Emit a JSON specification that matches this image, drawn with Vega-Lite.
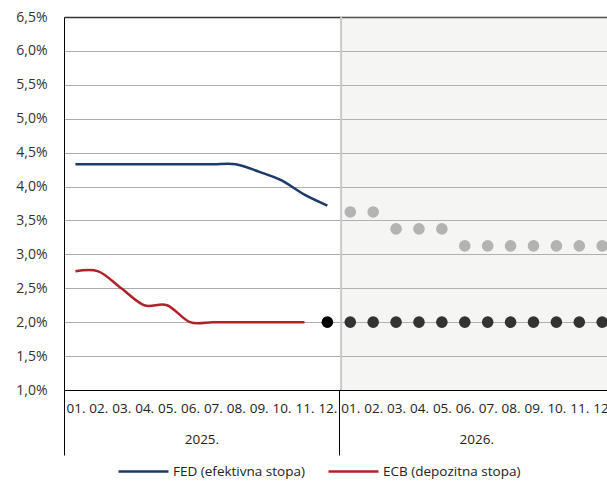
{
  "$schema": "https://vega.github.io/schema/vega-lite/v6.json",
  "width": 543,
  "height": 373,
  "autosize": {"type": "none"},
  "padding": {"left": 64, "top": 17, "right": 0, "bottom": 95},
  "config": {
    "font": "Open Sans",
    "view": {"stroke": null},
    "axis": {"labelFont": "Open Sans", "labelFontSize": 13.5, "labelColor": "#222222"},
    "legend": {"labelFont": "Open Sans"}
  },
  "datasets": {
    "rates": [
      {"m": 1, "v": 4.33, "s": "FED (efektivna stopa)"},
      {"m": 2, "v": 4.33, "s": "FED (efektivna stopa)"},
      {"m": 3, "v": 4.33, "s": "FED (efektivna stopa)"},
      {"m": 4, "v": 4.33, "s": "FED (efektivna stopa)"},
      {"m": 5, "v": 4.33, "s": "FED (efektivna stopa)"},
      {"m": 6, "v": 4.33, "s": "FED (efektivna stopa)"},
      {"m": 7, "v": 4.33, "s": "FED (efektivna stopa)"},
      {"m": 8, "v": 4.33, "s": "FED (efektivna stopa)"},
      {"m": 9, "v": 4.22, "s": "FED (efektivna stopa)"},
      {"m": 10, "v": 4.09, "s": "FED (efektivna stopa)"},
      {"m": 11, "v": 3.88, "s": "FED (efektivna stopa)"},
      {"m": 12, "v": 3.72, "s": "FED (efektivna stopa)"},
      {"m": 1, "v": 2.75, "s": "ECB (depozitna stopa)"},
      {"m": 2, "v": 2.75, "s": "ECB (depozitna stopa)"},
      {"m": 3, "v": 2.5, "s": "ECB (depozitna stopa)"},
      {"m": 4, "v": 2.25, "s": "ECB (depozitna stopa)"},
      {"m": 5, "v": 2.25, "s": "ECB (depozitna stopa)"},
      {"m": 6, "v": 2.0, "s": "ECB (depozitna stopa)"},
      {"m": 7, "v": 2.0, "s": "ECB (depozitna stopa)"},
      {"m": 8, "v": 2.0, "s": "ECB (depozitna stopa)"},
      {"m": 9, "v": 2.0, "s": "ECB (depozitna stopa)"},
      {"m": 10, "v": 2.0, "s": "ECB (depozitna stopa)"},
      {"m": 11, "v": 2.0, "s": "ECB (depozitna stopa)"}
    ],
    "dots": [
      {"m": 12, "v": 2.0, "g": "ecb_now"},
      {"m": 13, "v": 3.625, "g": "fed_exp"},
      {"m": 14, "v": 3.625, "g": "fed_exp"},
      {"m": 15, "v": 3.375, "g": "fed_exp"},
      {"m": 16, "v": 3.375, "g": "fed_exp"},
      {"m": 17, "v": 3.375, "g": "fed_exp"},
      {"m": 18, "v": 3.125, "g": "fed_exp"},
      {"m": 19, "v": 3.125, "g": "fed_exp"},
      {"m": 20, "v": 3.125, "g": "fed_exp"},
      {"m": 21, "v": 3.125, "g": "fed_exp"},
      {"m": 22, "v": 3.125, "g": "fed_exp"},
      {"m": 23, "v": 3.125, "g": "fed_exp"},
      {"m": 24, "v": 3.125, "g": "fed_exp"},
      {"m": 13, "v": 2.0, "g": "ecb_exp"},
      {"m": 14, "v": 2.0, "g": "ecb_exp"},
      {"m": 15, "v": 2.0, "g": "ecb_exp"},
      {"m": 16, "v": 2.0, "g": "ecb_exp"},
      {"m": 17, "v": 2.0, "g": "ecb_exp"},
      {"m": 18, "v": 2.0, "g": "ecb_exp"},
      {"m": 19, "v": 2.0, "g": "ecb_exp"},
      {"m": 20, "v": 2.0, "g": "ecb_exp"},
      {"m": 21, "v": 2.0, "g": "ecb_exp"},
      {"m": 22, "v": 2.0, "g": "ecb_exp"},
      {"m": 23, "v": 2.0, "g": "ecb_exp"},
      {"m": 24, "v": 2.0, "g": "ecb_exp"}
    ],
    "shade": [
      {"x": 12.6, "x2": 24.21}
    ]
  },
  "layer": [
    {
      "data": {"name": "shade"},
      "mark": {"type": "rect", "fill": "#cdcdc8", "opacity": 0.2, "clip": true},
      "encoding": {
        "x": {
          "field": "x", "type": "quantitative",
          "scale": {"domain": [0.5, 24.21], "nice": false, "zero": false},
          "axis": {"orient": "bottom", "values": [0.5, 12.5], "labels": false, "ticks": true, "tickSize": 65, "tickColor": "#000000", "tickWidth": 1, "domain": false, "grid": false, "title": null}
        },
        "x2": {"field": "x2"}
      }
    },
    {
      "data": {"name": "shade"},
      "mark": {"type": "rule", "color": "#c9c9c9", "strokeWidth": 2},
      "encoding": {
        "x": {
          "field": "x", "type": "quantitative",
          "scale": {"domain": [0.5, 24.21], "nice": false, "zero": false},
          "axis": null
        }
      }
    },
    {
      "data": {"name": "rates"},
      "mark": {"type": "line", "interpolate": "cardinal", "strokeWidth": 2.5},
      "encoding": {
        "x": {
          "field": "m", "type": "quantitative",
          "scale": {"domain": [0.5, 24.21], "nice": false, "zero": false},
          "axis": {
            "orient": "bottom",
            "values": [1,2,3,4,5,6,7,8,9,10,11,12,13,14,15,16,17,18,19,20,21,22,23,24],
            "labelExpr": "format(datum.value > 12 ? datum.value - 12 : datum.value, '02') + '.'",
            "ticks": false, "grid": false, "domain": true, "domainColor": "#000000", "domainWidth": 1,
            "labelPadding": 11, "labelFlush": false, "labelOverlap": false, "title": null
          }
        },
        "y": {
          "field": "v", "type": "quantitative",
          "scale": {"domain": [1, 6.5], "nice": false, "zero": false},
          "axis": {
            "values": [1, 1.5, 2, 2.5, 3, 3.5, 4, 4.5, 5, 5.5, 6, 6.5],
            "labelExpr": "replace(format(datum.value, '.1f'), '.', ',') + '%'",
            "ticks": false, "grid": true, "labelOverlap": false, "labelFlush": false,
            "gridColor": {"condition": {"test": "datum.value == 6.5", "value": "#333333"}, "value": "#ababab"},
            "gridWidth": {"condition": {"test": "datum.value == 6.5", "value": 1.5}, "value": 1},
            "domain": true, "domainColor": "#000000", "domainWidth": 1,
            "labelPadding": 17, "labelFontSize": 14, "labelColor": "#333333", "title": null
          }
        },
        "color": {
          "field": "s", "type": "nominal",
          "scale": {"domain": ["FED (efektivna stopa)", "ECB (depozitna stopa)"], "range": ["#1d3a6c", "#b0222b"]},
          "legend": {
            "orient": "none", "legendX": 53, "legendY": 428, "direction": "horizontal",
            "title": null, "symbolType": "stroke", "symbolSize": 2500, "symbolStrokeWidth": 2.5,
            "labelFontSize": 13.5, "labelColor": "#222222", "columnPadding": 18, "labelOffset": 3
          }
        }
      }
    },
    {
      "data": {"name": "dots"},
      "mark": {"type": "point", "shape": "circle", "filled": true, "opacity": 1, "size": 135},
      "encoding": {
        "x": {
          "field": "m", "type": "quantitative",
          "scale": {"domain": [0.5, 24.21], "nice": false, "zero": false},
          "axis": {
            "orient": "bottom", "values": [6.5, 18.5],
            "labelExpr": "datum.value < 12 ? '2025.' : '2026.'",
            "ticks": false, "grid": false, "domain": false,
            "labelPadding": 42, "labelFlush": false, "labelOverlap": false, "title": null
          }
        },
        "y": {
          "field": "v", "type": "quantitative",
          "scale": {"domain": [1, 6.5], "nice": false, "zero": false},
          "axis": {
            "values": [1, 1.5, 2, 2.5, 3, 3.5, 4, 4.5, 5, 5.5, 6, 6.5],
            "labelExpr": "replace(format(datum.value, '.1f'), '.', ',') + '%'",
            "ticks": false, "grid": true, "labelOverlap": false, "labelFlush": false,
            "gridColor": {"condition": {"test": "datum.value == 6.5", "value": "#333333"}, "value": "#ababab"},
            "gridWidth": {"condition": {"test": "datum.value == 6.5", "value": 1.5}, "value": 1},
            "domain": true, "domainColor": "#000000", "domainWidth": 1,
            "labelPadding": 17, "labelFontSize": 14, "labelColor": "#333333", "title": null
          }
        },
        "color": {
          "field": "g", "type": "nominal",
          "scale": {"domain": ["fed_exp", "ecb_exp", "ecb_now"], "range": ["#b3b3b3", "#333333", "#000000"]},
          "legend": null
        }
      }
    }
  ],
  "resolve": {
    "scale": {"x": "independent", "color": "independent"},
    "axis": {"x": "independent"}
  }
}
